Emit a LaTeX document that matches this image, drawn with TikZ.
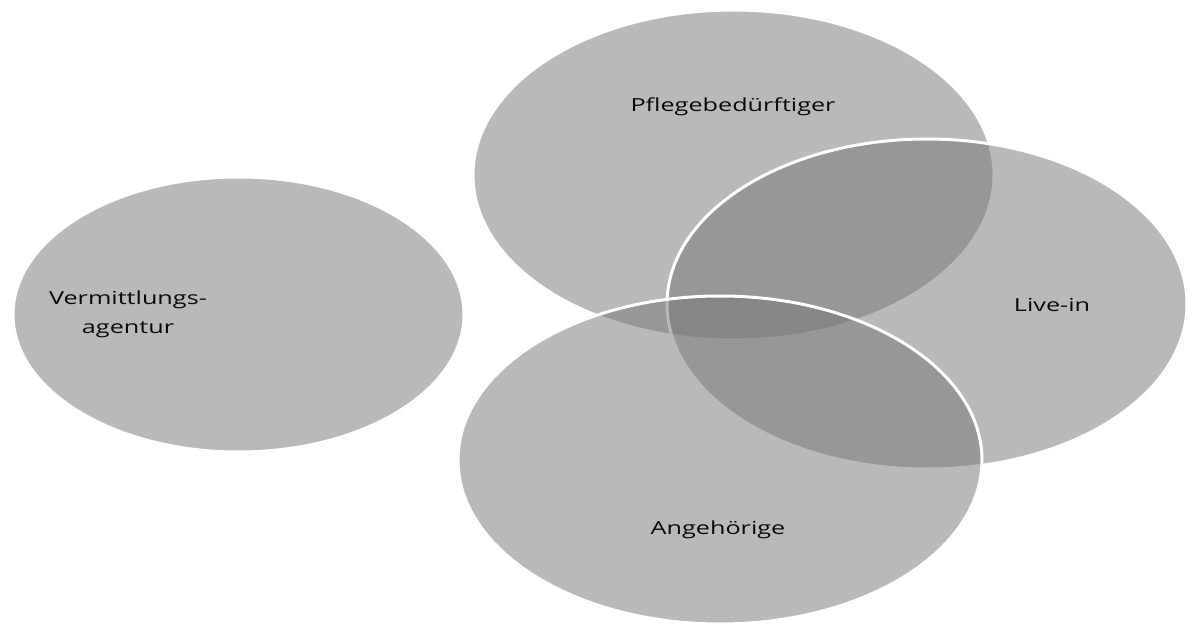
\documentclass[tikz,border=0pt]{standalone}
\usepackage{fontspec}
\setmainfont{Open Sans}
\definecolor{blobfill}{RGB}{119,119,119}
\definecolor{labeltext}{RGB}{10,10,10}
\tikzset{
  blob/.style={fill=blobfill, fill opacity=0.514, draw=white, draw opacity=1, line width=3pt},
  lbl/.style={text=labeltext, font=\fontsize{18}{29}\selectfont, align=center, inner sep=0pt},
}
\newcommand{\wide}[1]{\scalebox{1.4}[1]{#1}}
\begin{document}
\begin{tikzpicture}[x=1pt,y=-1pt]
  \useasboundingbox (0,0) rectangle (1187,623);
  \fill[white] (0,0) rectangle (1187,623);
  \begin{scope}
    \clip (0,0) rectangle (1187,623);
    \draw[blob] (238.5,314.5) ellipse [x radius=225.5, y radius=137.5];
    \draw[blob] (733.5,175) ellipse [x radius=260.5, y radius=165];
    \draw[blob] (927,304) ellipse [x radius=260, y radius=165];
    \draw[blob] (720,460) ellipse [x radius=262, y radius=164];
  \end{scope}
  \node[lbl] (verm) at (128,314.5) {\wide{Vermittlungs-}\\\wide{agentur}};
  \node[lbl] (pfleg) at (733,107) {\wide{Pflegebedürftiger}};
  \node[lbl] (live) at (1052,305) {\wide{Live-in}};
  \node[lbl] (ang) at (718,530) {\wide{Angehörige}};
\end{tikzpicture}
\end{document}
